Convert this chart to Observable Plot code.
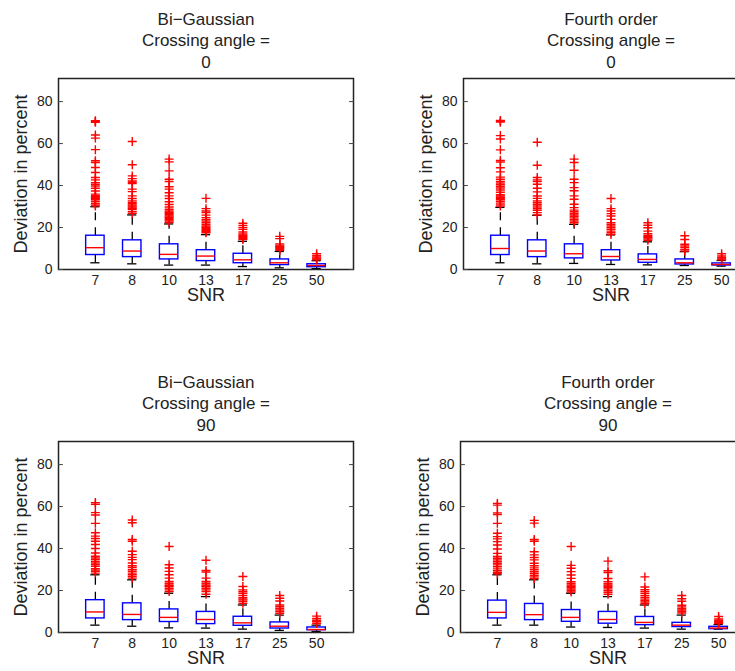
<!DOCTYPE html>
<html>
<head>
<meta charset="utf-8">
<script src="https://cdn.jsdelivr.net/npm/d3@7"></script>
<script src="https://cdn.jsdelivr.net/npm/@observablehq/plot@0.6"></script>
<style>
  html, body { margin: 0; padding: 0; background: #fff; overflow: hidden; }
  #fig { position: relative; width: 735px; height: 671px; overflow: hidden; }
  #fig svg { position: absolute; overflow: visible; }
</style>
</head>
<body>
<div id="fig"></div>
<script>
// SNR groups along the x axis (one box per group) and y tick values
const snr = ["7", "8", "10", "13", "17", "25", "50"];
const yTicks = [0, 20, 40, 60, 80];

// Bi-Gaussian, crossing angle 0
const bg0Q1 = [6.9, 5.9, 4.8, 4.0, 3.0, 2.1, 1.1];
const bg0Median = [10.4, 8.8, 7.2, 6.4, 4.6, 3.2, 1.9];
const bg0Q3 = [16.1, 13.9, 12.0, 9.2, 7.5, 4.8, 2.5];
const bg0Low = [3.2, 2.7, 2.1, 2.1, 1.4, 0.8, 0.4];
const bg0High = [29.9, 26.0, 21.7, 16.6, 13.4, 8.6, 4.2];
const bg0Outliers = [
  [70.9, 70.5, 70.1, 64.1, 62.6, 57.1, 51.8, 51.0, 48.6, 46.2, 43.8, 42.7, 41.4, 40.6, 39.8, 38.7, 37.4, 35.9, 35.2, 34.7, 34.2, 33.8, 33.2, 32.4, 31.5, 30.8, 30.3],
  [61.0, 49.9, 44.6, 43.3, 42.2, 41.6, 40.9, 38.3, 37.1, 35.1, 33.8, 32.7, 31.9, 31.4, 30.8, 30.3, 29.8, 29.2, 28.7, 27.6, 26.8],
  [52.6, 51.3, 47.0, 43.0, 41.9, 39.4, 38.3, 36.6, 35.1, 33.8, 32.3, 31.0, 29.8, 28.7, 27.9, 27.3, 26.7, 26.1, 25.5, 24.9, 24.3, 23.7, 23.1, 22.4],
  [33.9, 29.0, 27.9, 27.1, 25.9, 24.7, 23.9, 23.1, 22.3, 21.5, 20.7, 20.1, 19.5, 19.0, 18.5, 18.0, 17.5],
  [22.0, 21.0, 20.0, 19.1, 17.9, 16.9, 16.3, 15.8, 15.3, 14.8, 14.3],
  [15.8, 14.7, 12.2, 11.6, 11.1, 10.6, 10.1, 9.6, 9.1],
  [7.5, 6.6, 6.0, 5.5, 5.0, 4.6]
];

// Fourth order, crossing angle 0
const fo0Q1 = [6.9, 5.9, 5.3, 4.3, 3.2, 2.4, 1.9];
const fo0Median = [10.0, 8.8, 7.5, 6.2, 4.8, 3.2, 2.4];
const fo0Q3 = [16.1, 13.9, 12.0, 9.2, 7.2, 4.8, 2.9];
const fo0Low = [3.2, 2.7, 2.9, 2.4, 2.2, 1.9, 1.6];
const fo0High = [29.6, 25.8, 21.5, 16.5, 13.2, 8.5, 4.3];
const fo0Outliers = [
  [71.0, 70.6, 70.2, 63.8, 62.2, 57.0, 52.0, 51.2, 48.5, 46.5, 44.0, 43.0, 42.0, 41.2, 40.4, 39.6, 38.8, 37.9, 36.8, 35.6, 35.0, 34.4, 33.8, 33.2, 32.4, 31.6, 30.8, 30.2],
  [60.6, 49.7, 43.8, 42.7, 41.9, 40.6, 38.7, 37.0, 35.0, 33.9, 32.7, 31.9, 31.1, 30.3, 29.7, 29.0, 28.2, 27.1, 26.0],
  [52.6, 51.0, 47.3, 43.0, 41.4, 39.0, 37.5, 35.1, 33.5, 31.1, 29.5, 28.3, 27.5, 26.7, 26.0, 25.3, 24.6, 23.9, 23.1, 22.3],
  [33.8, 29.0, 27.9, 26.6, 25.5, 23.9, 22.3, 21.5, 20.7, 19.9, 19.1, 18.3, 17.5, 16.7],
  [22.3, 21.1, 19.9, 18.3, 17.0, 16.2, 15.6, 15.1, 14.5, 13.9],
  [16.1, 14.3, 12.0, 11.2, 10.4, 9.6, 8.8],
  [7.5, 6.4, 5.6, 5.0, 4.6]
];

// Bi-Gaussian, crossing angle 90
const bg90Q1 = [6.7, 5.9, 5.0, 4.0, 3.2, 1.9, 1.1];
const bg90Median = [9.8, 8.6, 7.2, 6.2, 4.6, 3.0, 1.4];
const bg90Q3 = [15.4, 13.9, 11.0, 9.8, 7.5, 4.8, 2.4];
const bg90Low = [3.5, 3.0, 2.2, 2.1, 1.6, 1.0, 0.5];
const bg90High = [27.5, 25.1, 18.7, 17.1, 13.1, 8.3, 3.5];
const bg90Outliers = [
  [61.9, 61.1, 57.1, 56.0, 52.0, 47.5, 45.9, 44.8, 43.5, 41.9, 40.0, 37.9, 36.3, 35.5, 34.7, 33.9, 33.1, 32.3, 31.5, 30.4, 29.7, 29.1, 28.3],
  [53.6, 52.3, 44.3, 43.5, 38.7, 37.1, 35.8, 34.7, 33.1, 31.8, 31.0, 29.9, 29.1, 28.3, 27.5, 26.7, 25.9],
  [41.0, 32.3, 30.7, 29.1, 27.5, 25.9, 24.3, 23.5, 22.7, 22.3, 21.9, 21.1, 20.3, 19.5],
  [34.4, 29.6, 28.8, 25.9, 24.3, 23.5, 22.7, 22.2, 21.9, 21.1, 20.3, 19.5, 18.2],
  [26.7, 21.9, 20.3, 19.5, 18.7, 17.6, 16.6, 16.0, 15.5, 14.7, 13.9],
  [17.6, 16.3, 15.0, 13.1, 12.3, 11.5, 10.7, 9.9, 9.1],
  [7.8, 6.7, 5.9, 5.5, 5.1, 4.3]
];

// Fourth order, crossing angle 90
const fo90Q1 = [6.7, 5.9, 5.1, 4.2, 3.5, 2.6, 1.6];
const fo90Median = [9.6, 8.5, 7.2, 6.2, 4.8, 3.5, 2.1];
const fo90Q3 = [15.2, 13.6, 10.7, 9.8, 7.4, 4.6, 2.7];
const fo90Low = [3.5, 3.5, 2.6, 2.4, 2.1, 1.6, 1.6];
const fo90High = [27.5, 25.1, 18.7, 17.1, 13.1, 8.3, 3.8];
const fo90Outliers = [
  [61.5, 60.7, 57.0, 56.2, 52.0, 47.3, 45.7, 44.6, 43.3, 41.7, 39.8, 37.7, 36.2, 35.4, 34.6, 33.8, 33.0, 32.2, 31.3, 30.3, 29.5, 28.7, 28.0],
  [53.4, 52.1, 44.3, 43.5, 38.5, 37.0, 35.7, 34.6, 33.0, 31.8, 30.8, 29.9, 29.0, 28.2, 27.3, 26.5, 25.7],
  [41.0, 32.0, 30.6, 29.0, 27.4, 25.8, 24.2, 23.4, 22.6, 22.0, 21.4, 20.7, 20.0, 19.3],
  [34.0, 29.4, 28.6, 25.7, 24.2, 23.3, 22.6, 22.0, 21.5, 20.8, 20.0, 19.2, 18.2],
  [26.5, 21.7, 20.4, 19.4, 18.5, 17.5, 16.6, 15.9, 15.2, 14.5, 13.7],
  [17.6, 16.1, 14.9, 13.0, 12.2, 11.4, 10.7, 10.0, 9.3],
  [7.6, 6.4, 5.8, 5.3, 4.8, 4.3]
];

// Panels: title, position of the svg box, and the statistics drawn in it
const panels = [
  {title: "Bi\u2212Gaussian\nCrossing angle =\n0", left: 0, top: 0,
   q1: bg0Q1, med: bg0Median, q3: bg0Q3, lo: bg0Low, hi: bg0High, out: bg0Outliers},
  {title: "Fourth order\nCrossing angle =\n0", left: 405, top: 0,
   q1: fo0Q1, med: fo0Median, q3: fo0Q3, lo: fo0Low, hi: fo0High, out: fo0Outliers},
  {title: "Bi\u2212Gaussian\nCrossing angle =\n90", left: 0, top: 363,
   q1: bg90Q1, med: bg90Median, q3: bg90Q3, lo: bg90Low, hi: bg90High, out: bg90Outliers},
  {title: "Fourth order\nCrossing angle =\n90", left: 402, top: 363,
   q1: fo90Q1, med: fo90Median, q3: fo90Q3, lo: fo90Low, hi: fo90High, out: fo90Outliers}
];

// Short inward tick: a straight stroke of the given length
const tickShape = {draw(context, l) { context.moveTo(0, 0); context.lineTo(0, -l); }};

const BOX_HALF = 0.25;   // half box width, in group units
const CAP_HALF = 0.125;  // half whisker-cap width
const ink = "#222";

function boxPanel(p) {
  const stats = snr.map((s, i) => ({
    pos: i + 1, q1: p.q1[i], med: p.med[i], q3: p.q3[i], lo: p.lo[i], hi: p.hi[i]
  }));
  const outliers = p.out.flatMap((vals, i) => vals.map(v => ({pos: i + 1, v})));
  return Plot.plot({
    width: 365,
    height: 308,
    marginLeft: 58,
    marginRight: 12,
    marginTop: 78,
    marginBottom: 39,
    style: {fontFamily: "'Liberation Sans', Arial, Helvetica, sans-serif", color: ink, background: "transparent", overflow: "visible"},
    x: {domain: [0, snr.length + 1], axis: null},
    y: {domain: [0, 91], axis: null},
    marks: [
      // whiskers (dashed) and caps
      Plot.ruleX(stats, {x: "pos", y1: "q3", y2: "hi", stroke: "black", strokeWidth: 1.3, strokeDasharray: "8,7"}),
      Plot.ruleX(stats, {x: "pos", y1: "q1", y2: "lo", stroke: "black", strokeWidth: 1.3, strokeDasharray: "8,7"}),
      Plot.ruleY(stats, {y: "hi", x1: d => d.pos - CAP_HALF, x2: d => d.pos + CAP_HALF, stroke: "black", strokeWidth: 1.3}),
      Plot.ruleY(stats, {y: "lo", x1: d => d.pos - CAP_HALF, x2: d => d.pos + CAP_HALF, stroke: "black", strokeWidth: 1.3}),
      // interquartile boxes and medians
      Plot.rect(stats, {x1: d => d.pos - BOX_HALF, x2: d => d.pos + BOX_HALF, y1: "q1", y2: "q3", fill: "white", stroke: "#0000ff", strokeWidth: 1.4}),
      Plot.ruleY(stats, {y: "med", x1: d => d.pos - BOX_HALF, x2: d => d.pos + BOX_HALF, stroke: "#ff0000", strokeWidth: 1.4}),
      // outliers
      Plot.dot(outliers, {x: "pos", y: "v", symbol: "plus", r: 3, stroke: "#ff0000", strokeWidth: 1.4}),
      // axes box with inward ticks on both sides
      Plot.frame({stroke: ink, strokeWidth: 1.5}),
      Plot.vector(yTicks, {y: d => d, frameAnchor: "left", rotate: 90, length: 4, anchor: "start", shape: tickShape, stroke: "#444", strokeWidth: 1}),
      Plot.vector(yTicks, {y: d => d, frameAnchor: "right", rotate: -90, length: 4, anchor: "start", shape: tickShape, stroke: "#444", strokeWidth: 1}),
      Plot.axisY({ticks: yTicks, tickSize: 0, tickPadding: 6, fontSize: 14, label: null}),
      Plot.axisX({ticks: stats.map(d => d.pos), tickFormat: d => snr[d - 1], tickSize: 0, tickPadding: 6, fontSize: 14, label: null}),
      // axis labels and title
      Plot.text(["SNR"], {frameAnchor: "bottom", dy: 31, fontSize: 18, fill: ink}),
      Plot.text(["Deviation in percent"], {frameAnchor: "left", textAnchor: "middle", rotate: -90, dx: -37, fontSize: 18, fill: ink}),
      Plot.text([p.title], {frameAnchor: "top", lineAnchor: "bottom", dy: -11, fontSize: 17, lineHeight: 1.24, fill: ink})
    ]
  });
}

const fig = document.getElementById("fig");
for (const p of panels) {
  const svg = boxPanel(p);
  svg.style.left = p.left + "px";
  svg.style.top = p.top + "px";
  fig.appendChild(svg);
}
</script>
</body>
</html>
